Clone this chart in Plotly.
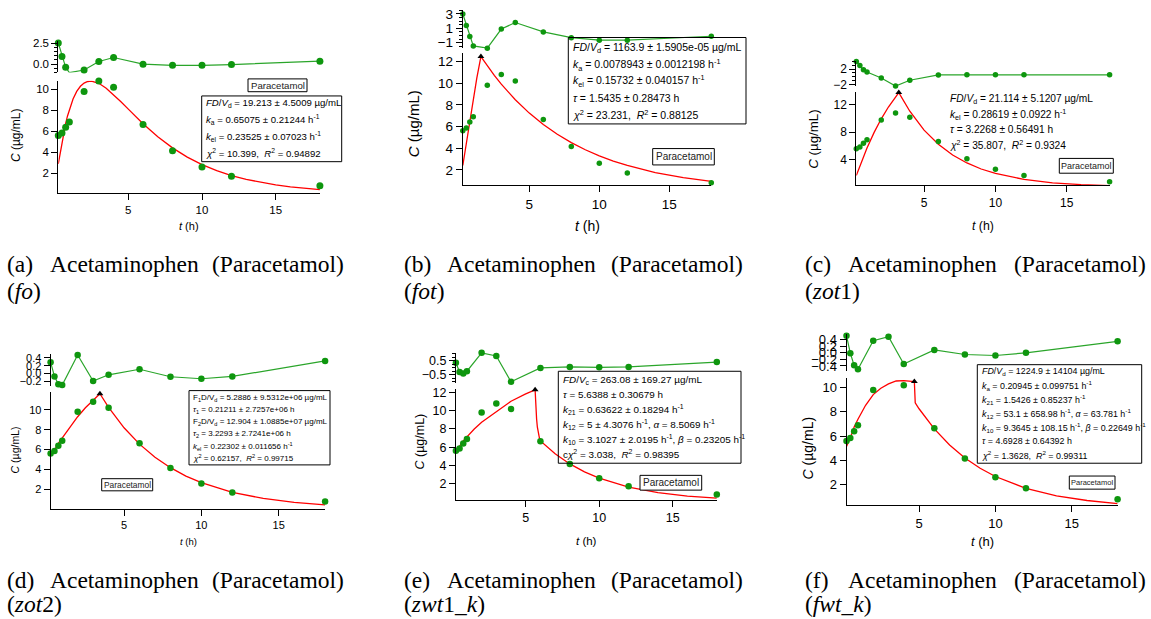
import plotly.graph_objects as go

W, H = 1151, 619

# ---------------- data ----------------
T_OBS = [0.25, 0.5, 0.75, 1, 2, 3, 4, 6, 8, 10, 12, 18]
C_OBS = [5.6, 5.85, 6.4, 6.9, 9.8, 10.8, 10.2, 6.65, 4.15, 2.6, 1.7, 0.8]

RES_A = [2.55, 0.92, -0.39, -1.03, -0.71, 0.32, 0.8, 0.0, -0.15, -0.15, -0.05, 0.36]
RES_B = [3.0, 1.4, -0.15, -1.45, -1.75, 0.9, 1.8, 0.5, -0.3, -0.65, -0.65, -0.1]
RES_C = [3.96, 2.94, 1.8, 1.23, -0.3, -2.4, -0.9, 0.47, 0.5, 0.5, 0.5, 0.5]
RES_D = [0.29, -0.07, -0.27, -0.29, 0.47, -0.19, -0.03, 0.11, -0.08, -0.13, -0.07, 0.32]
RES_E = [0.36, -0.31, -0.43, -0.26, 1.07, 0.84, -1.02, -0.02, 0.05, 0.02, 0.05, 0.4]
RES_F = [0.52, -0.01, -0.38, -0.5, 0.37, 0.49, -0.34, 0.09, -0.05, -0.08, 0.0, 0.35]

# fitted curves
FIT_A_T = [0.25, 0.375, 0.5, 0.625, 0.75, 0.875, 1, 1.25, 1.5, 1.75, 2, 2.25, 2.5, 2.75, 3, 3.5,
           4, 4.5, 5, 6, 7, 8, 9, 10, 11, 12, 13, 14, 15, 16, 17, 18]
FIT_A_C = [2.9, 3.97, 5.02, 5.94, 6.76, 7.47, 8.09, 9.08, 9.81, 10.30, 10.61, 10.76, 10.80, 10.73, 10.59, 10.12,
           9.51, 8.83, 8.12, 6.73, 5.48, 4.42, 3.54, 2.82, 2.24, 1.78, 1.41, 1.12, 0.88, 0.70, 0.55, 0.44]

FIT_B_RISE_T = [0.25, 0.5, 0.75, 1.0, 1.25, 1.5435]
FIT_B_RISE_C = [2.4, 4.45, 6.5, 8.5, 10.45, 12.45]
FIT_B_DECAY_T = [1.5435, 2, 2.5, 3, 4, 5, 6, 7, 8, 9, 10, 11, 12, 14, 16, 18]
FIT_B_DECAY_C = [12.45, 11.59, 10.71, 9.90, 8.46, 7.23, 6.18, 5.28, 4.51, 3.85, 3.29, 2.81, 2.40, 1.75, 1.28, 0.94]

FIT_C_RISE_T = [0.25, 0.5, 1, 1.5, 2, 2.5, 3, 3.2268]
FIT_C_RISE_C = [1.7, 3.05, 5.69, 7.98, 9.96, 11.68, 13.17, 13.78]
FIT_C_DECAY_T = [3.2268, 3.5, 4, 5, 6, 7, 8, 9, 10, 12, 14, 16, 18]
FIT_C_DECAY_C = [13.78, 12.76, 11.06, 8.31, 6.24, 4.69, 3.52, 2.64, 1.99, 1.12, 0.63, 0.36, 0.20]

FIT_D_RISE_T = [0.25, 0.5, 0.75, 1, 1.5, 2, 2.5, 3, 3.44]
FIT_D_RISE_C = [5.4, 5.92, 6.62, 7.17, 8.25, 9.3, 10.2, 10.97, 11.6]
FIT_D_DECAY_T = [3.44, 4, 5, 6, 7, 8, 9, 10, 12, 14, 16, 18]
FIT_D_DECAY_C = [11.6, 10.23, 8.19, 6.55, 5.24, 4.19, 3.35, 2.68, 1.72, 1.10, 0.70, 0.45]

FIT_E_RISE_T = [0.25, 0.5, 0.75, 1, 1.5, 2, 3, 4, 5, 5.6388]
FIT_E_RISE_C = [5.3, 6.1, 6.7, 7.15, 8.0, 8.75, 9.95, 11.05, 11.85, 12.3]
FIT_E_DECAY_T = [5.6388, 5.66, 5.69, 5.74, 5.79, 5.84, 5.94, 6.0, 7, 8, 9, 10, 12, 14, 16, 18]
FIT_E_DECAY_C = [12.3, 11.44, 10.38, 9.10, 8.24, 7.65, 6.94, 6.69, 5.27, 4.16, 3.29, 2.60, 1.62, 1.01, 0.63, 0.40]

FIT_F_RISE_T = [0.25, 0.5, 0.75, 1, 1.5, 2, 2.5, 3, 3.5, 4, 4.6928]
FIT_F_RISE_C = [5.15, 5.86, 6.75, 7.4, 8.55, 9.43, 9.95, 10.31, 10.55, 10.58, 10.5]
FIT_F_DECAY_T = [4.6928, 4.75, 5, 6, 7, 8, 9, 10, 12, 14, 16, 18]
FIT_F_DECAY_C = [10.5, 8.75, 8.26, 6.6, 5.27, 4.2, 3.35, 2.67, 1.70, 1.08, 0.69, 0.44]

PEAK_T = [None, 1.5435, 3.2268, 3.44, 5.6388, 4.6928]
PEAK_C = [None, 12.45, 13.78, 11.6, 12.3, 10.5]

X_TICKS = [5, 10, 15]
X_TICK_LABELS = ["5", "10", "15"]

NB = "\u00a0"
PARAMS = [
    ["<i>FD</i>/<i>V</i><sub>d</sub> = 19.213 ± 4.5009 µg/mL",
     "<i>k</i><sub>a</sub> = 0.65075 ± 0.21244 h<sup>-1</sup>",
     "<i>k</i><sub>el</sub> = 0.23525 ± 0.07023 h<sup>-1</sup>",
     "<i>χ</i><sup>2</sup> = 10.399," + NB + NB + "<i>R</i><sup>2</sup> = 0.94892"],
    ["<i>FD</i>/<i>V</i><sub>d</sub> = 1163.9 ± 1.5905e-05 µg/mL",
     "<i>k</i><sub>a</sub> = 0.0078943 ± 0.0012198 h<sup>-1</sup>",
     "<i>k</i><sub>el</sub> = 0.15732 ± 0.040157 h<sup>-1</sup>",
     "<i>τ</i> = 1.5435 ± 0.28473 h",
     "<i>χ</i><sup>2</sup> = 23.231," + NB + NB + "<i>R</i><sup>2</sup> = 0.88125"],
    ["<i>FD</i>/<i>V</i><sub>d</sub> = 21.114 ± 5.1207 µg/mL",
     "<i>k</i><sub>el</sub> = 0.28619 ± 0.0922 h<sup>-1</sup>",
     "<i>τ</i> = 3.2268 ± 0.56491 h",
     "<i>χ</i><sup>2</sup> = 35.807," + NB + NB + "<i>R</i><sup>2</sup> = 0.9324"],
    ["F<sub>1</sub>D/V<sub>d</sub> = 5.2886 ± 9.5312e+06 µg/mL",
     "<i>τ</i><sub>1</sub> = 0.21211 ± 2.7257e+06 h",
     "F<sub>2</sub>D/V<sub>d</sub> = 12.904 ± 1.0885e+07 µg/mL",
     "<i>τ</i><sub>2</sub> = 3.2293 ± 2.7241e+06 h",
     "<i>k</i><sub>el</sub> = 0.22302 ± 0.011656 h<sup>-1</sup>",
     "<i>χ</i><sup>2</sup> = 0.62157," + NB + NB + "<i>R</i><sup>2</sup> = 0.99715"],
    ["<i>FD</i>/<i>V</i><sub>c</sub> = 263.08 ± 169.27 µg/mL",
     "<i>τ</i> = 5.6388 ± 0.30679 h",
     "<i>k</i><sub>21</sub> = 0.63622 ± 0.18294 h<sup>-1</sup>",
     "<i>k</i><sub>12</sub> = 5 ± 4.3076 h<sup>-1</sup>, <i>α</i> = 8.5069 h<sup>-1</sup>",
     "<i>k</i><sub>10</sub> = 3.1027 ± 2.0195 h<sup>-1</sup>, <i>β</i> = 0.23205 h<sup>-1</sup>",
     "c<i>χ</i><sup>2</sup> = 3.038," + NB + NB + "<i>R</i><sup>2</sup> = 0.98395"],
    ["<i>FD</i>/<i>V</i><sub>d</sub> = 1224.9 ± 14104 µg/mL",
     "<i>k</i><sub>a</sub> = 0.20945 ± 0.099751 h<sup>-1</sup>",
     "<i>k</i><sub>21</sub> = 1.5426 ± 0.85237 h<sup>-1</sup>",
     "<i>k</i><sub>12</sub> = 53.1 ± 658.98 h<sup>-1</sup>, <i>α</i> = 63.781 h<sup>-1</sup>",
     "<i>k</i><sub>10</sub> = 9.3645 ± 108.15 h<sup>-1</sup>, <i>β</i> = 0.22649 h<sup>-1</sup>",
     "<i>τ</i> = 4.6928 ± 0.64392 h",
     "<i>χ</i><sup>2</sup> = 1.3628," + NB + NB + "<i>R</i><sup>2</sup> = 0.99311"],
]
CAPTION_LETTERS = ["(a)", "(b)", "(c)", "(d)", "(e)", "(f)"]
CAPTION_MODELS = ["(<i>fo</i>)", "(<i>fot</i>)", "(<i>zot</i>1)", "(<i>zot</i>2)",
                  "(<i>zwt</i>1_<i>k</i>)", "(<i>fwt</i>_<i>k</i>)"]
LABEL = "Paracetamol"

FITS = [
    [(FIT_A_T, FIT_A_C)],
    [(FIT_B_RISE_T, FIT_B_RISE_C), (FIT_B_DECAY_T, FIT_B_DECAY_C)],
    [(FIT_C_RISE_T, FIT_C_RISE_C), (FIT_C_DECAY_T, FIT_C_DECAY_C)],
    [(FIT_D_RISE_T, FIT_D_RISE_C), (FIT_D_DECAY_T, FIT_D_DECAY_C)],
    [(FIT_E_RISE_T, FIT_E_RISE_C), (FIT_E_DECAY_T, FIT_E_DECAY_C)],
    [(FIT_F_RISE_T, FIT_F_RISE_C), (FIT_F_DECAY_T, FIT_F_DECAY_C)],
]
RESIDS = [RES_A, RES_B, RES_C, RES_D, RES_E, RES_F]

# ---------------- geometry / style (pixels) ----------------
PANELS = [
    dict(x0=58.3, x1=319.9, mt=78, mb=192, yr=[0.09, 10.82], ydt=2,
         rt=38, rb=69.5, rr=[-1.01, 2.74], r0=0, rdt=2.5, rfmt=".1f", rminor=0.5,
         tick=11.5, title=12, ms=7, ytx=16, yty=133, xtx=189, xty=225,
         box=(201.7, 93.3, 341.7, 160), px=204, py0=100, pdy=17.2, pf=9.6,
         lab=(248, 76, 307, 89), lf=9.6, cap=(5, 346, 264, 291)),
    dict(x0=462.8, x1=711.3, mt=50, mb=184, yr=[0.57, 12.75], ydt=2,
         rt=6, rb=45, rr=[-1.78, 3.55], r0=1, rdt=2, rfmt="", rminor=0.5,
         tick=13.5, title=15, ms=5.5, ytx=413, yty=122, xtx=587, xty=225,
         box=(568.3, 34, 746, 121.7), px=571, py0=45, pdy=16.7, pf=10.5,
         lab=(652.7, 146.7, 714.3, 163.3), lf=10, cap=(402, 745, 264, 291)),
    dict(x0=856.3, x1=1109.6, mt=89, mb=184, yr=[0.26, 13.91], ydt=4,
         rt=57.5, rb=83.5, rr=[-2.46, 4.17], r0=2, rdt=4, rfmt="", rminor=1,
         tick=12, title=13.3, ms=5.5, ytx=812.7, yty=137, xtx=983, xty=225,
         box=None, px=948, py0=97, pdy=15.3, pf=10.2,
         lab=(1059.3, 156.7, 1113.3, 171.7), lf=9, cap=(803, 1148, 264, 291)),
    dict(x0=50.6, x1=325.1, mt=394, mb=512, yr=[0.09, 11.75], ydt=2,
         rt=355, rb=387.5, rr=[-0.31, 0.5], r0=0, rdt=0.2, rfmt=".1f", rminor=None,
         tick=11, title=10.5, ms=6.5, ytx=15, yty=452, xtx=188, xty=545,
         box=(189, 392.3, 330, 467.7), px=191, py0=400, pdy=12.2, pf=8,
         lab=(101.7, 481.7, 152.7, 494), lf=8.4, cap=(5, 346, 585, 609)),
    dict(x0=455.9, x1=716.8, mt=390.5, mb=503.5, yr=[0.18, 12.41], ydt=2,
         rt=354, rb=385, rr=[-1.14, 1.07], r0=0.5, rdt=1, rfmt=".1f", rminor=0.25,
         tick=12.5, title=12.5, ms=6.5, ytx=420.5, yty=444.5, xtx=586, xty=545,
         box=(558.3, 372.7, 741, 466), px=561, py0=381.7, pdy=15, pf=9.9,
         lab=(640, 478.3, 701.7, 493.3), lf=10, cap=(402, 745, 585, 609)),
    dict(x0=846.5, x1=1117.6, mt=380, mb=508.5, yr=[0.31, 10.76], ydt=2,
         rt=335, rb=372, rr=[-0.54, 0.57], r0=0, rdt=0.2, rfmt=".1f", rminor=None,
         tick=13, title=14, ms=6.5, ytx=808, yty=451, xtx=982, xty=545,
         box=(977.3, 366, 1141.7, 466), px=980, py0=373.3, pdy=14, pf=8.9,
         lab=(1069.3, 479, 1115, 492.3), lf=7.5, cap=(803, 1148, 585, 609)),
]

SANS = "Liberation Sans, Arial, sans-serif"
SERIF = "Liberation Serif, Times New Roman, serif"
GREEN = "#0e960e"
GREEN_LINE = "#2aa52a"
RED = "#ff0000"
CAP_SIZE = 23.5


def xp(px):
    return px / W


def yp(py):
    return 1 - py / H


fig = go.Figure()
layout = dict(width=W, height=H, margin=dict(l=0, r=0, t=0, b=0),
              paper_bgcolor="white", plot_bgcolor="rgba(0,0,0,0)",
              showlegend=False, font=dict(family=SANS, color="black"))
annotations = []
shapes = []

for i, p in enumerate(PANELS):
    m, r = 2 * i + 1, 2 * i + 2
    mk = "" if m == 1 else str(m)
    mx, my = "x" + mk, "y" + mk
    rx, ry = "x%d" % r, "y%d" % r
    xdom = [xp(p["x0"]), xp(p["x1"])]
    tf = dict(family=SANS, size=p["tick"], color="black")

    layout["xaxis" + mk] = dict(domain=xdom, range=[0.25, 18], anchor=my,
                                showline=True, linecolor="black", linewidth=1,
                                ticks="outside", ticklen=6, tickcolor="black",
                                tickmode="array", tickvals=X_TICKS, ticktext=X_TICK_LABELS,
                                tickfont=tf, showgrid=False, zeroline=False)
    layout["yaxis" + mk] = dict(domain=[yp(p["mb"]), yp(p["mt"])], range=p["yr"], anchor=mx,
                                showline=True, linecolor="black", linewidth=1,
                                ticks="outside", ticklen=6, tickcolor="black",
                                tick0=0, dtick=p["ydt"], tickfont=tf,
                                showgrid=False, zeroline=False)
    layout["xaxis%d" % r] = dict(domain=xdom, range=[0.25, 18], anchor=ry, visible=False)
    ry_ax = dict(domain=[yp(p["rb"]), yp(p["rt"])], range=p["rr"], anchor=rx,
                 showline=True, linecolor="black", linewidth=1,
                 ticks="outside", ticklen=6, tickcolor="black",
                 tick0=p["r0"], dtick=p["rdt"], tickfont=tf,
                 showgrid=False, zeroline=False)
    if p["rfmt"]:
        ry_ax["tickformat"] = p["rfmt"]
    if p["rminor"]:
        ry_ax["minor"] = dict(dtick=p["rminor"], tick0=0, ticks="outside", ticklen=3,
                              tickcolor="black", showgrid=False)
    layout["yaxis%d" % r] = ry_ax

    # residuals
    fig.add_trace(go.Scatter(x=T_OBS, y=RESIDS[i], mode="lines+markers", xaxis=rx, yaxis=ry,
                             line=dict(color=GREEN_LINE, width=1.2),
                             marker=dict(color=GREEN, size=p["ms"]), cliponaxis=False))
    # fit curve
    for (tt, cc) in FITS[i]:
        fig.add_trace(go.Scatter(x=tt, y=cc, mode="lines", xaxis=mx, yaxis=my,
                                 line=dict(color=RED, width=1.3), cliponaxis=False))
    # data
    fig.add_trace(go.Scatter(x=T_OBS, y=C_OBS, mode="markers", xaxis=mx, yaxis=my,
                             marker=dict(color=GREEN, size=p["ms"]), cliponaxis=False))
    if PEAK_T[i] is not None:
        fig.add_trace(go.Scatter(x=[PEAK_T[i]], y=[PEAK_C[i]], mode="markers", xaxis=mx, yaxis=my,
                                 marker=dict(color="black", size=6, symbol="triangle-up"),
                                 cliponaxis=False))

    # axis titles
    annotations.append(dict(x=xp(p["ytx"]), y=yp(p["yty"]), xref="paper", yref="paper",
                            text="<i>C</i> (µg/mL)", textangle=-90, showarrow=False,
                            font=dict(family=SANS, size=p["title"], color="black"),
                            xanchor="center", yanchor="middle"))
    annotations.append(dict(x=xp(p["xtx"]), y=yp(p["xty"]), xref="paper", yref="paper",
                            text="<i>t</i> (h)", showarrow=False,
                            font=dict(family=SANS, size=p["title"] - 1, color="black"),
                            xanchor="center", yanchor="middle"))

    # parameter box
    if p["box"] is not None:
        bx0, by0, bx1, by1 = p["box"]
        shapes.append(dict(type="rect", xref="paper", yref="paper",
                           x0=xp(bx0), x1=xp(bx1), y0=yp(by1), y1=yp(by0),
                           line=dict(color="black", width=1), fillcolor="rgba(0,0,0,0)"))
    for k, line in enumerate(PARAMS[i]):
        annotations.append(dict(x=xp(p["px"]), y=yp(p["py0"] + k * p["pdy"]), xref="paper", yref="paper",
                                text=line, showarrow=False, xanchor="left", yanchor="middle",
                                font=dict(family=SANS, size=p["pf"], color="black")))
    # label box
    lx0, ly0, lx1, ly1 = p["lab"]
    shapes.append(dict(type="rect", xref="paper", yref="paper",
                       x0=xp(lx0), x1=xp(lx1), y0=yp(ly1), y1=yp(ly0),
                       line=dict(color="black", width=1), fillcolor="white"))
    annotations.append(dict(x=xp((lx0 + lx1) / 2), y=yp((ly0 + ly1) / 2), xref="paper", yref="paper",
                            text=LABEL, showarrow=False, xanchor="center", yanchor="middle",
                            font=dict(family=SANS, size=p["lf"], color="#222222")))

    # caption (justified first line, as in the typeset original)
    L, R, y1, y2 = p["cap"]
    cf = dict(family=SERIF, size=CAP_SIZE, color="black")
    annotations.append(dict(x=xp(L), y=yp(y1), xref="paper", yref="paper", text=CAPTION_LETTERS[i],
                            showarrow=False, xanchor="left", yanchor="middle", font=cf))
    annotations.append(dict(x=xp(L + 0.125 * (R - L)), y=yp(y1), xref="paper", yref="paper",
                            text="Acetaminophen", showarrow=False, xanchor="left",
                            yanchor="middle", font=cf))
    annotations.append(dict(x=xp(R), y=yp(y1), xref="paper", yref="paper", text="(Paracetamol)",
                            showarrow=False, xanchor="right", yanchor="middle", font=cf))
    annotations.append(dict(x=xp(L), y=yp(y2), xref="paper", yref="paper", text=CAPTION_MODELS[i],
                            showarrow=False, xanchor="left", yanchor="middle", font=cf))

layout["annotations"] = annotations
layout["shapes"] = shapes
fig.update_layout(**layout)
fig.write_html("out.html")
